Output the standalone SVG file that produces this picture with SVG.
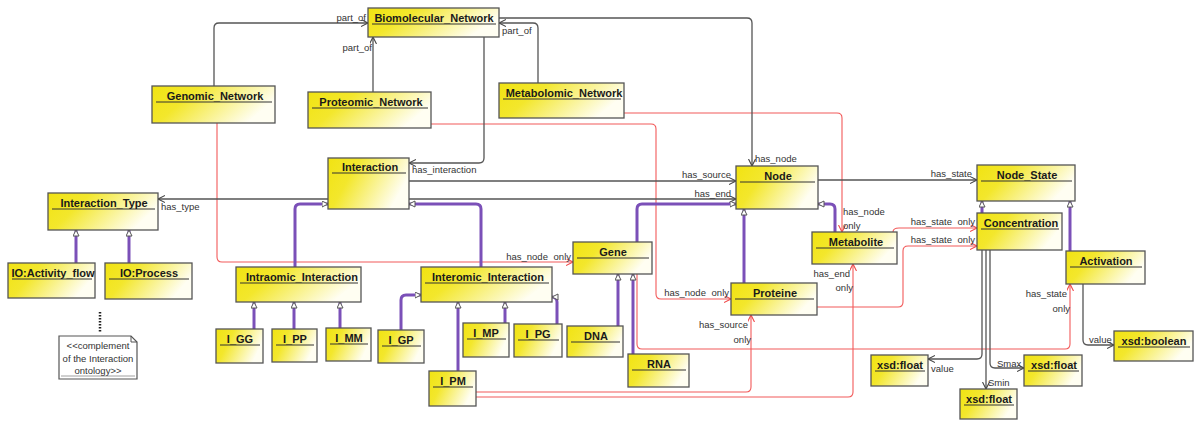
<svg xmlns="http://www.w3.org/2000/svg" width="1195" height="421" viewBox="0 0 1195 421">
<defs>
<linearGradient id="yg" x1="0" y1="0" x2="1" y2="0.35">
<stop offset="0" stop-color="#f1e312"/>
<stop offset="0.35" stop-color="#f3e72c"/>
<stop offset="1" stop-color="#fffef2"/>
</linearGradient>
<marker id="ag" markerUnits="userSpaceOnUse" markerWidth="9" markerHeight="9" refX="7" refY="3.5" orient="auto">
<path d="M0,0 L7,3.5 L0,7" fill="none" stroke="#444" stroke-width="1.1"/>
</marker>
<marker id="ar" markerUnits="userSpaceOnUse" markerWidth="9" markerHeight="9" refX="7" refY="3.5" orient="auto">
<path d="M0,0 L7,3.5 L0,7" fill="none" stroke="#f04848" stroke-width="1.1"/>
</marker>
<marker id="tri" markerUnits="userSpaceOnUse" markerWidth="9" markerHeight="9" refX="6.5" refY="3.5" orient="auto">
<path d="M0.5,0.5 L6.5,3.5 L0.5,6.5 Z" fill="#fff" stroke="#555" stroke-width="1"/>
</marker>
</defs>
<style>
.box{fill:url(#yg);stroke:#555;stroke-width:1.3}
.sep{stroke:#333;stroke-width:1}
.t{font-family:"Liberation Sans",Arial,sans-serif;font-weight:bold;font-size:11px;fill:#1a1a1a;text-anchor:middle}
.l{font-family:"Liberation Sans",Arial,sans-serif;font-size:9.5px;fill:#333}
.g{fill:none;stroke:#555;stroke-width:1.3;marker-end:url(#ag)}
.r{fill:none;stroke:#f25a5a;stroke-width:1.1;marker-end:url(#ar)}
.p{fill:none;stroke:#7b50b8;stroke-width:3;marker-end:url(#tri)}
.note{fill:#fff;stroke:#555;stroke-width:1.2}
.nt{font-family:"Liberation Sans",Arial,sans-serif;font-size:9.5px;fill:#333;text-anchor:middle}
</style>
<rect width="1195" height="421" fill="#fff"/>

<g id="connectors">
<!-- red -->
<path class="r" d="M217,123 L217,257 Q217,262 222,262 L573,262"/>
<path class="r" d="M431,124 L651,124 Q656,124 656,129 L656,294 Q656,299 661,299 L731,299"/>
<path class="r" d="M624,113 L837,113 Q842,113 842,118 L842,232"/>
<path class="r" d="M893,232 Q893,228 899,228 L977,228"/>
<path class="r" d="M817,307 L898,307 Q903,307 903,302 L903,251 Q903,246 908,246 L977,246"/>
<path class="r" d="M637,274 L637,344 Q637,349 642,349 L1065,349 Q1070,349 1070,344 L1070,284"/>
<path class="r" d="M476,392 L746,392 Q751,392 751,387 L751,315"/>
<path class="r" d="M476,397 L848,397 Q853,397 853,392 L853,264"/>
<!-- grey -->
<path class="g" d="M214,86 L214,28 Q214,23 219,23 L368,23"/>
<path class="g" d="M373,92 L373,37"/>
<path class="g" d="M538,83 L538,28 Q538,23 533,23 L499,23"/>
<path class="g" d="M499,18 L747,18 Q752,18 752,23 L752,166"/>
<path class="g" d="M484,37 L484,158 Q484,163 479,163 L409,163"/>
<path class="g" d="M328,199 L158,199"/>
<path class="g" d="M409,181 L736,181"/>
<path class="g" d="M409,199 L736,199"/>
<path class="g" d="M818,180 L977,180"/>
<path class="g" d="M982,250 L982,354 Q982,359 977,359 L928,359"/>
<path class="g" d="M986,250 L986,389"/>
<path class="g" d="M990,250 L990,363 Q990,368 995,368 L1024,368"/>
<path class="g" d="M1083,284 L1083,340 Q1083,345 1088,345 L1114,345"/>
<!-- generalization -->
<path class="p" d="M76,263 L76,230"/>
<path class="p" d="M129,263 L129,230"/>
<path class="p" d="M295,267 L295,209 Q295,204 300,204 L328,204"/>
<path class="p" d="M481,267 L481,209 Q481,204 476,204 L409,204"/>
<path class="p" d="M254,329 L254,302"/>
<path class="p" d="M294,329 L294,302"/>
<path class="p" d="M340,328 L340,302"/>
<path class="p" d="M401,330 L401,300 Q401,295 406,295 L421,295"/>
<path class="p" d="M458,371 L458,302"/>
<path class="p" d="M505,323 L505,302"/>
<path class="p" d="M557,324 L557,302 Q557,297 552,297"/>
<path class="p" d="M618,326 L618,274"/>
<path class="p" d="M633,354 L633,274"/>
<path class="p" d="M637,242 L637,209 Q637,204 642,204 L736,204"/>
<path class="p" d="M744,283 L744,209"/>
<path class="p" d="M835,232 L835,209 Q835,204 830,204 L818,204"/>
<path class="p" d="M982,213 L982,201"/>
<path class="p" d="M1070,251 L1070,201"/>
<!-- labels -->
<text class="l" x="366" y="21" text-anchor="end">part_of</text>
<text class="l" x="372" y="51" text-anchor="end">part_of</text>
<text class="l" x="502" y="34">part_of</text>
<text class="l" x="755" y="162">has_node</text>
<text class="l" x="412" y="173">has_interaction</text>
<text class="l" x="731" y="178" text-anchor="end">has_source</text>
<text class="l" x="731" y="197" text-anchor="end">has_end</text>
<text class="l" x="161" y="210">has_type</text>
<text class="l" x="972" y="177" text-anchor="end">has_state</text>
<text class="l" x="843" y="215">has_node</text>
<text class="l" x="843" y="229">only</text>
<text class="l" x="975" y="225" text-anchor="end" word-spacing="3">has_state only</text>
<text class="l" x="975" y="243" text-anchor="end" word-spacing="3">has_state only</text>
<text class="l" x="850" y="277" text-anchor="end">has_end</text>
<text class="l" x="853" y="291" text-anchor="end">only</text>
<text class="l" x="571" y="260" text-anchor="end" word-spacing="3">has_node only</text>
<text class="l" x="729" y="296" text-anchor="end" word-spacing="3">has_node only</text>
<text class="l" x="748" y="328" text-anchor="end">has_source</text>
<text class="l" x="751" y="343" text-anchor="end">only</text>
<text class="l" x="1067" y="297" text-anchor="end">has_state</text>
<text class="l" x="1070" y="312" text-anchor="end">only</text>
<text class="l" x="1089" y="343">value</text>
<text class="l" x="931" y="372">value</text>
<text class="l" x="997" y="367">Smax</text>
<text class="l" x="988" y="386">Smin</text>
</g>

<g id="n-bio"><rect class="box" x="368" y="8" width="131" height="29"/><line class="sep" x1="372" y1="24" x2="496" y2="24"/><text class="t" x="434" y="22">Biomolecular_Network</text></g>
<g id="n-genomic"><rect class="box" x="152" y="86" width="123" height="37"/><line class="sep" x1="156" y1="102" x2="272" y2="102"/><text class="t" x="215" y="100">Genomic_Network</text></g>
<g id="n-proteomic"><rect class="box" x="308" y="92" width="123" height="36"/><line class="sep" x1="312" y1="108" x2="428" y2="108"/><text class="t" x="371" y="106">Proteomic_Network</text></g>
<g id="n-metabolomic"><rect class="box" x="499" y="83" width="125" height="35"/><line class="sep" x1="503" y1="99" x2="621" y2="99"/><text class="t" x="564" y="97">Metabolomic_Network</text></g>
<g id="n-interaction"><rect class="box" x="328" y="158" width="81" height="51"/><line class="sep" x1="332" y1="173" x2="406" y2="173"/><text class="t" x="370" y="171">Interaction</text></g>
<g id="n-itype"><rect class="box" x="48" y="193" width="110" height="37"/><line class="sep" x1="52" y1="209" x2="155" y2="209"/><text class="t" x="104" y="207">Interaction_Type</text></g>
<g id="n-ioact"><rect class="box" x="8" y="263" width="87" height="35"/><line class="sep" x1="12" y1="279" x2="92" y2="279"/><text class="t" x="53" y="277">IO:Activity_flow</text></g>
<g id="n-ioproc"><rect class="box" x="105" y="263" width="87" height="36"/><line class="sep" x1="109" y1="279" x2="189" y2="279"/><text class="t" x="149" y="277">IO:Process</text></g>
<g id="n-intraomic"><rect class="box" x="236" y="267" width="125" height="35"/><line class="sep" x1="240" y1="283" x2="358" y2="283"/><text class="t" x="302" y="281">Intraomic_Interaction</text></g>
<g id="n-interomic"><rect class="box" x="421" y="267" width="131" height="35"/><line class="sep" x1="425" y1="283" x2="549" y2="283"/><text class="t" x="488" y="281">Interomic_Interaction</text></g>
<g id="n-igg"><rect class="box" x="216" y="329" width="47" height="34"/><line class="sep" x1="220" y1="345" x2="260" y2="345"/><text class="t" x="240" y="343">I_GG</text></g>
<g id="n-ipp"><rect class="box" x="272" y="329" width="45" height="33"/><line class="sep" x1="276" y1="345" x2="314" y2="345"/><text class="t" x="295" y="343">I_PP</text></g>
<g id="n-imm"><rect class="box" x="326" y="328" width="45" height="33"/><line class="sep" x1="330" y1="344" x2="368" y2="344"/><text class="t" x="349" y="342">I_MM</text></g>
<g id="n-igp"><rect class="box" x="378" y="330" width="46" height="33"/><line class="sep" x1="382" y1="346" x2="421" y2="346"/><text class="t" x="401" y="344">I_GP</text></g>
<g id="n-imp"><rect class="box" x="463" y="323" width="46" height="34"/><line class="sep" x1="467" y1="339" x2="506" y2="339"/><text class="t" x="486" y="337">I_MP</text></g>
<g id="n-ipg"><rect class="box" x="514" y="324" width="48" height="33"/><line class="sep" x1="518" y1="340" x2="559" y2="340"/><text class="t" x="538" y="338">I_PG</text></g>
<g id="n-ipm"><rect class="box" x="429" y="371" width="47" height="35"/><line class="sep" x1="433" y1="387" x2="473" y2="387"/><text class="t" x="453" y="385">I_PM</text></g>
<g id="n-dna"><rect class="box" x="567" y="326" width="56" height="31"/><line class="sep" x1="571" y1="342" x2="620" y2="342"/><text class="t" x="596" y="340">DNA</text></g>
<g id="n-rna"><rect class="box" x="628" y="354" width="61" height="33"/><line class="sep" x1="632" y1="370" x2="686" y2="370"/><text class="t" x="659" y="368">RNA</text></g>
<g id="n-gene"><rect class="box" x="573" y="242" width="79" height="32"/><line class="sep" x1="577" y1="258" x2="649" y2="258"/><text class="t" x="613" y="256">Gene</text></g>
<g id="n-node"><rect class="box" x="736" y="166" width="82" height="43"/><line class="sep" x1="740" y1="182" x2="815" y2="182"/><text class="t" x="778" y="180">Node</text></g>
<g id="n-proteine"><rect class="box" x="731" y="283" width="86" height="32"/><line class="sep" x1="735" y1="299" x2="814" y2="299"/><text class="t" x="775" y="297">Proteine</text></g>
<g id="n-metabolite"><rect class="box" x="812" y="232" width="85" height="32"/><line class="sep" x1="816" y1="248" x2="894" y2="248"/><text class="t" x="856" y="246">Metabolite</text></g>
<g id="n-nodestate"><rect class="box" x="977" y="165" width="98" height="36"/><line class="sep" x1="981" y1="181" x2="1072" y2="181"/><text class="t" x="1027" y="179">Node_State</text></g>
<g id="n-concentration"><rect class="box" x="977" y="213" width="85" height="37"/><line class="sep" x1="981" y1="229" x2="1059" y2="229"/><text class="t" x="1021" y="227">Concentration</text></g>
<g id="n-activation"><rect class="box" x="1066" y="251" width="79" height="33"/><line class="sep" x1="1070" y1="267" x2="1142" y2="267"/><text class="t" x="1106" y="265">Activation</text></g>
<g id="n-float1"><rect class="box" x="871" y="355" width="57" height="31"/><line class="sep" x1="875" y1="371" x2="925" y2="371"/><text class="t" x="900" y="369">xsd:float</text></g>
<g id="n-float2"><rect class="box" x="1024" y="355" width="58" height="31"/><line class="sep" x1="1028" y1="371" x2="1079" y2="371"/><text class="t" x="1054" y="369">xsd:float</text></g>
<g id="n-float3"><rect class="box" x="960" y="389" width="57" height="30"/><line class="sep" x1="964" y1="405" x2="1014" y2="405"/><text class="t" x="989" y="403">xsd:float</text></g>
<g id="n-boolean"><rect class="box" x="1114" y="331" width="79" height="30"/><line class="sep" x1="1118" y1="347" x2="1190" y2="347"/><text class="t" x="1154" y="345">xsd:boolean</text></g>

<g id="n-note">
<line x1="100" y1="312" x2="100" y2="332" stroke="#222" stroke-width="2.5" stroke-dasharray="1.5,1.5"/>
<path class="note" d="M59,336 L131,336 L137,342 L137,379 L59,379 Z"/>
<path d="M131,336 L131,342 L137,342" fill="none" stroke="#555" stroke-width="1"/>
<line x1="61" y1="376" x2="135" y2="376" stroke="#888" stroke-width="0.8"/>
<text class="nt" x="98" y="349">&lt;&lt;complement</text>
<text class="nt" x="98" y="362">of the Interaction</text>
<text class="nt" x="98" y="374">ontology&gt;&gt;</text>
</g>
</svg>
